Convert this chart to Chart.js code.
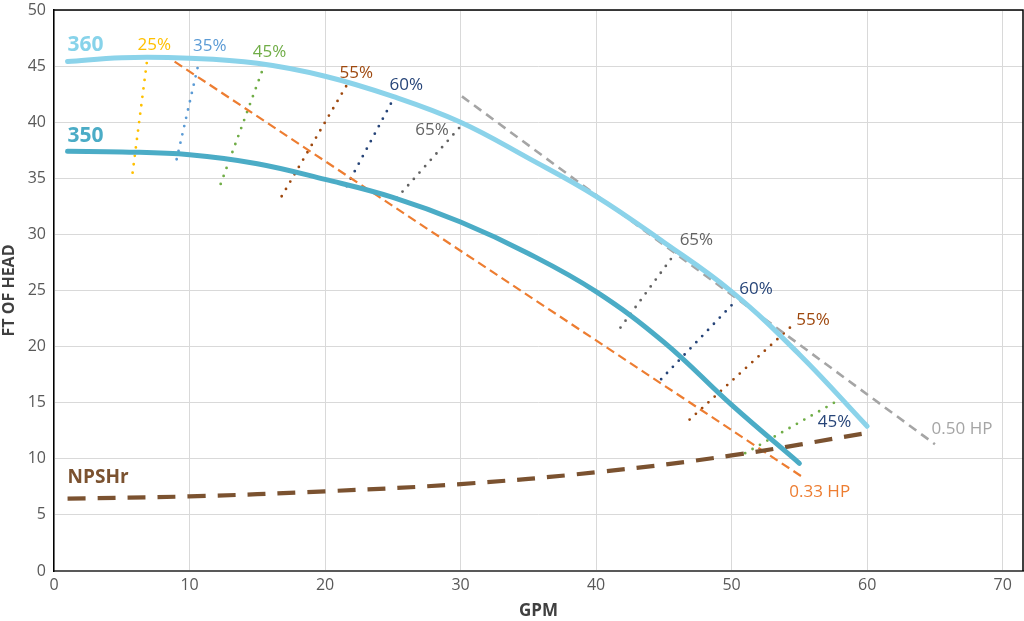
<!DOCTYPE html>
<html>
<head>
<meta charset="utf-8">
<script src="https://cdn.jsdelivr.net/npm/chart.js@4.4.0/dist/chart.umd.min.js"></script>
<style>
  html, body { margin: 0; padding: 0; background: #fff; }
  #wrap { width: 1024px; height: 621px; }
</style>
</head>
<body>
<div id="wrap"><canvas id="pumpChart"></canvas></div>
<script>
// pump curves (GPM vs ft of head)
const gpm360 = [1, 5, 10, 15, 20, 25, 30, 35, 40, 45, 50, 55, 60];
const head360 = [45.4, 45.75, 45.7, 45.25, 44.1, 42.3, 40.0, 36.8, 33.4, 29.3, 24.9, 19.3, 12.9];
const gpm350 = [1, 5, 10, 15, 20, 25, 30, 35, 40, 45, 50, 55];
const head350 = [37.4, 37.35, 37.1, 36.3, 34.9, 33.3, 31.1, 28.3, 24.9, 20.4, 14.8, 9.6];
const gpmNpsh = [1, 10, 20, 30, 40, 50, 60];
const headNpsh = [6.45, 6.65, 7.1, 7.75, 8.8, 10.3, 12.3];

// horsepower lines
const gpmHp33 = [8.9, 55.2];
const headHp33 = [45.4, 8.4];
const gpmHp50 = [30.1, 65];
const headHp50 = [42.3, 11.3];

// efficiency lines [gpm low, gpm high], [head low, head high]
const effNames = ['25%', '35%', '45%', '55%', '60%', '65%', '65%', '60%', '55%', '45%'];
const effGpm = [[5.8, 6.9], [9.05, 10.7], [12.3, 15.4], [16.8, 21.6], [21.6, 25.1], [25.3, 30.2],
                [41.8, 46.0], [44.8, 50.4], [46.9, 54.4], [51.0, 58.0]];
const effHead = [[35.5, 45.8], [36.7, 45.4], [34.5, 44.7], [33.4, 43.3], [34.3, 42.2], [33.25, 39.9],
                 [21.7, 28.6], [17.1, 24.2], [13.5, 21.8], [10.5, 15.3]];
const effColors = ['#ffc000', '#5b9bd5', '#70ad47', '#9e480e', '#264478', '#636363',
                   '#636363', '#264478', '#9e480e', '#70ad47'];

const xTicks = [0, 10, 20, 30, 40, 50, 60, 70];

// text labels placed at data coordinates
const notes = [
  { text: '360', x: 1.0, y: 46.9, color: '#87d3ea', font: 'bold 21px "Open Sans"', align: 'left' },
  { text: '350', x: 1.0, y: 38.8, color: '#4bacc6', font: 'bold 21px "Open Sans"', align: 'left' },
  { text: 'NPSHr', x: 1.0, y: 8.3, color: '#7b5230', font: 'bold 19px "Open Sans"', align: 'left' },
  { text: '25%', x: 7.4, y: 46.9, color: '#ffc000' },
  { text: '35%', x: 11.5, y: 46.75, color: '#5b9bd5' },
  { text: '45%', x: 15.9, y: 46.2, color: '#70ad47' },
  { text: '55%', x: 22.3, y: 44.4, color: '#9e480e' },
  { text: '60%', x: 26.0, y: 43.3, color: '#264478' },
  { text: '65%', x: 27.9, y: 39.3, color: '#636363' },
  { text: '65%', x: 47.4, y: 29.5, color: '#636363' },
  { text: '60%', x: 51.8, y: 25.1, color: '#264478' },
  { text: '55%', x: 56.0, y: 22.4, color: '#9e480e' },
  { text: '45%', x: 57.6, y: 13.3, color: '#264478' },
  { text: '0.33 HP', x: 56.5, y: 7.0, color: '#ed7d31' },
  { text: '0.50 HP', x: 67.0, y: 12.6, color: '#a5a5a5' }
];

function pts(xs, ys) {
  return xs.map((x, i) => ({ x: x, y: ys[i] }));
}

const datasets = [];
effNames.forEach((name, i) => {
  datasets.push({
    label: 'eff ' + name,
    data: pts(effGpm[i], effHead[i]),
    borderColor: effColors[i],
    borderWidth: 2.8,
    borderDash: [0, 8.5],
    borderCapStyle: 'round',
    pointRadius: 0
  });
});
datasets.push({
  label: '0.33 HP', data: pts(gpmHp33, headHp33),
  borderColor: '#ed7d31', borderWidth: 2.2, borderDash: [9, 5], pointRadius: 0
});
datasets.push({
  label: '0.50 HP', data: pts(gpmHp50, headHp50),
  borderColor: '#a5a5a5', borderWidth: 2.6, borderDash: [9, 6], pointRadius: 0
});
datasets.push({
  label: 'NPSHr', data: pts(gpmNpsh, headNpsh),
  borderColor: '#7b5230', borderWidth: 4.2, borderDash: [18, 12], pointRadius: 0,
  tension: 0.4
});
datasets.push({
  label: '350', data: pts(gpm350, head350),
  borderColor: '#4bacc6', borderWidth: 5, pointRadius: 0,
  borderCapStyle: 'round', tension: 0.4
});
datasets.push({
  label: '360', data: pts(gpm360, head360),
  borderColor: '#8bd3ea', borderWidth: 5, pointRadius: 0,
  borderCapStyle: 'round', tension: 0.4
});
datasets.reverse(); // first dataset is drawn on top

const notesPlugin = {
  id: 'notes',
  afterDatasetsDraw(chart) {
    const { ctx, scales: { x, y } } = chart;
    ctx.save();
    ctx.textBaseline = 'middle';
    notes.forEach(n => {
      ctx.font = n.font || '17px "Open Sans"';
      ctx.fillStyle = n.color;
      ctx.textAlign = n.align || 'center';
      ctx.fillText(n.text, x.getPixelForValue(n.x), y.getPixelForValue(n.y));
    });
    ctx.restore();
  },
  afterDraw(chart) {
    const { ctx, chartArea: a } = chart;
    ctx.save();
    ctx.strokeStyle = '#000';
    ctx.lineWidth = 1.5;
    ctx.beginPath();
    ctx.moveTo(a.left, a.top);
    ctx.lineTo(a.right, a.top);
    ctx.lineTo(a.right, a.bottom);
    ctx.stroke();
    ctx.restore();
  }
};

new Chart(document.getElementById('pumpChart'), {
  type: 'line',
  data: { datasets: datasets },
  plugins: [notesPlugin],
  options: {
    responsive: true,
    maintainAspectRatio: false,
    animation: false,
    layout: { padding: { top: 10, right: 1, left: 0, bottom: 0 } },
    plugins: { legend: { display: false }, tooltip: { enabled: false } },
    scales: {
      x: {
        type: 'linear', min: 0, max: 71.5,
        afterBuildTicks: s => { s.ticks = xTicks.map(v => ({ value: v })); },
        afterFit: s => { s.height = 50; s.paddingLeft = 0; s.paddingRight = 0; },
        grid: { color: '#d9d9d9', drawTicks: false },
        border: { color: '#595959', width: 2 },
        ticks: { color: '#595959', font: { family: 'Open Sans', size: 16 }, padding: 5 },
        title: { display: true, text: 'GPM', color: '#404040', padding: 0,
                 font: { family: 'Open Sans', size: 17, weight: 'bold' } }
      },
      y: {
        min: 0, max: 50,
        ticks: { stepSize: 5, color: '#595959', font: { family: 'Open Sans', size: 16 }, padding: 8 },
        afterFit: s => { s.width = 54; s.paddingTop = 0; s.paddingBottom = 0; },
        grid: { color: '#d9d9d9', drawTicks: false },
        border: { color: '#000', width: 1.5 },
        title: { display: true, text: 'FT OF HEAD', color: '#404040', padding: 0,
                 font: { family: 'Open Sans', size: 16, weight: 'bold' } }
      }
    }
  }
});
</script>
</body>
</html>
